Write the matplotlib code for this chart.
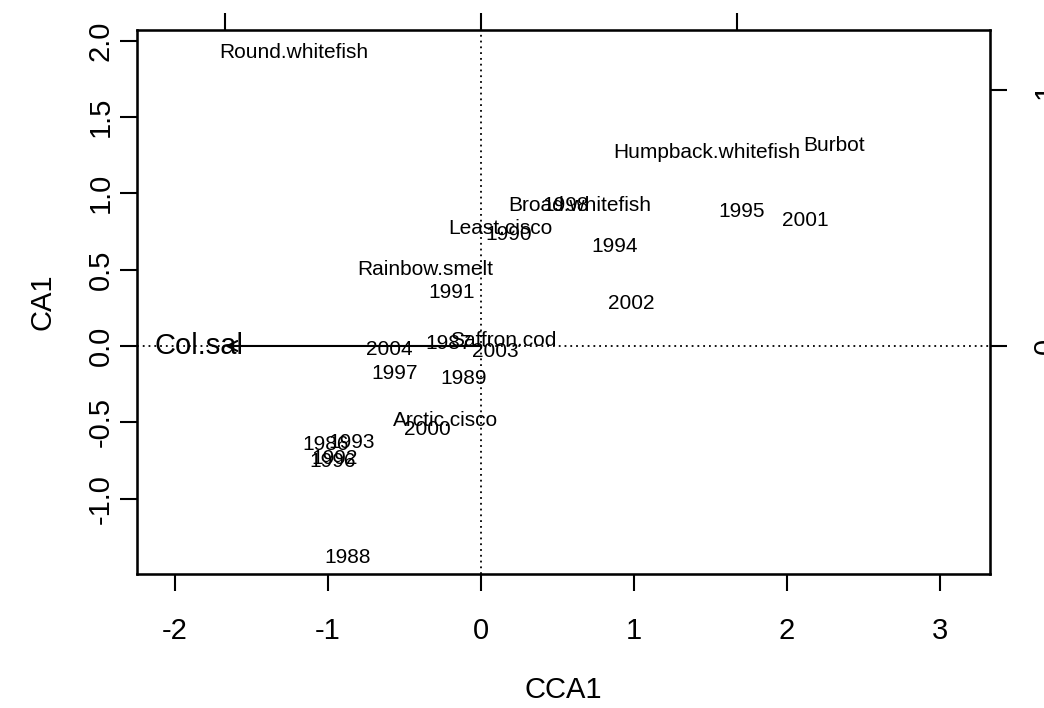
import matplotlib
matplotlib.use("Agg")
import matplotlib.pyplot as plt

plt.rcParams['font.family'] = ['Liberation Sans', 'DejaVu Sans']

# ---- data ----
site_labels = ['1986', '1987', '1988', '1989', '1990', '1991', '1992', '1993', '1994',
               '1995', '1996', '1997', '1998', '2000', '2001', '2002', '2003', '2004']
site_x = [-1.013, -0.209, -0.869, -0.111, 0.183, -0.190, -0.960, -0.843, 0.874,
          1.706, -0.967, -0.562, 0.556, -0.353, 2.118, 0.980, 0.092, -0.601]
site_y = [-0.648, 0.013, -1.382, -0.210, 0.727, 0.347, -0.738, -0.635, 0.649,
          0.878, -0.758, -0.177, 0.917, -0.544, 0.819, 0.275, -0.039, -0.020]

species_labels = ['Round.whitefish', 'Humpback.whitefish', 'Burbot', 'Broad.whitefish',
                  'Least.cisco', 'Rainbow.smelt', 'Saffron.cod', 'Arctic.cisco']
species_x = [-1.222, 1.477, 2.307, 0.647, 0.125, -0.366, 0.144, -0.229]
species_y = [1.919, 1.264, 1.310, 0.917, 0.766, 0.504, 0.039, -0.485]

biplot_labels = ['Col.sal']
biplot_x = [-1.0]
biplot_y = [0.0]
arrow_mul = 1.673

x_ticks = [-2, -1, 0, 1, 2, 3]
y_ticks = [-1.0, -0.5, 0.0, 0.5, 1.0, 1.5, 2.0]
arrow_ticks = [-1, 0, 1]
xlim = (-2.248, 3.327)
ylim = (-1.493, 2.069)

# ---- figure ----
fig = plt.figure(figsize=(10.44, 7.08), dpi=100)
ax = fig.add_axes([137 / 1044, 1 - 574 / 708, (990 - 137) / 1044, (574 - 30) / 708])
ax.set_xlim(*xlim)
ax.set_ylim(*ylim)

small = 15
big = 21

ax.axhline(0, color='black', lw=1.3, linestyle=(0, (1, 2.2)), zorder=1)
ax.axvline(0, color='black', lw=1.3, linestyle=(0, (1, 2.2)), zorder=1)

for lab, x, y in zip(site_labels, site_x, site_y):
    ax.text(x, y, lab, fontsize=small, ha='center', va='center')
for lab, x, y in zip(species_labels, species_x, species_y):
    ax.text(x, y, lab, fontsize=small, ha='center', va='center')

for lab, bx, by in zip(biplot_labels, biplot_x, biplot_y):
    ax.annotate('', xy=(bx * arrow_mul, by * arrow_mul), xytext=(0, 0),
                arrowprops=dict(arrowstyle='->,head_length=0.6,head_width=0.3',
                                mutation_scale=12, lw=1.5, color='black',
                                shrinkA=0, shrinkB=0))
    ax.text(bx * arrow_mul * 1.1, by * arrow_mul * 1.1, lab, fontsize=big,
            ha='center', va='center')

ax.set_xticks(x_ticks)
ax.set_xticklabels([str(t) for t in x_ticks])
ax.set_yticks(y_ticks)
ax.set_yticklabels([f'{t:.1f}' for t in y_ticks])
ax.tick_params(axis='x', length=12, width=1.5, labelsize=big, pad=19)
ax.tick_params(axis='y', length=12, width=1.5, labelsize=big, pad=4, labelrotation=90)
for lbl in ax.get_yticklabels():
    lbl.set_va('center')
ax.set_xlabel('CCA1', fontsize=big, labelpad=22)
ax.set_ylabel('CA1', fontsize=big, labelpad=22)
for s in ax.spines.values():
    s.set_linewidth(1.8)

# arrow-scale axes (top and right)
axt = ax.twiny()
axt.set_xlim(xlim[0] / arrow_mul, xlim[1] / arrow_mul)
axt.set_xticks(arrow_ticks)
axt.set_xticklabels([])
axt.tick_params(axis='x', length=12, width=1.5)

axr = ax.twinx()
axr.set_ylim(ylim[0] / arrow_mul, ylim[1] / arrow_mul)
axr.set_yticks([0, 1])
axr.set_yticklabels(['0', '1'])
axr.tick_params(axis='y', length=12, width=1.5, labelsize=big, pad=18, labelrotation=90)
for lbl in axr.get_yticklabels():
    lbl.set_va('center')

fig.savefig('out.png', dpi=100)
